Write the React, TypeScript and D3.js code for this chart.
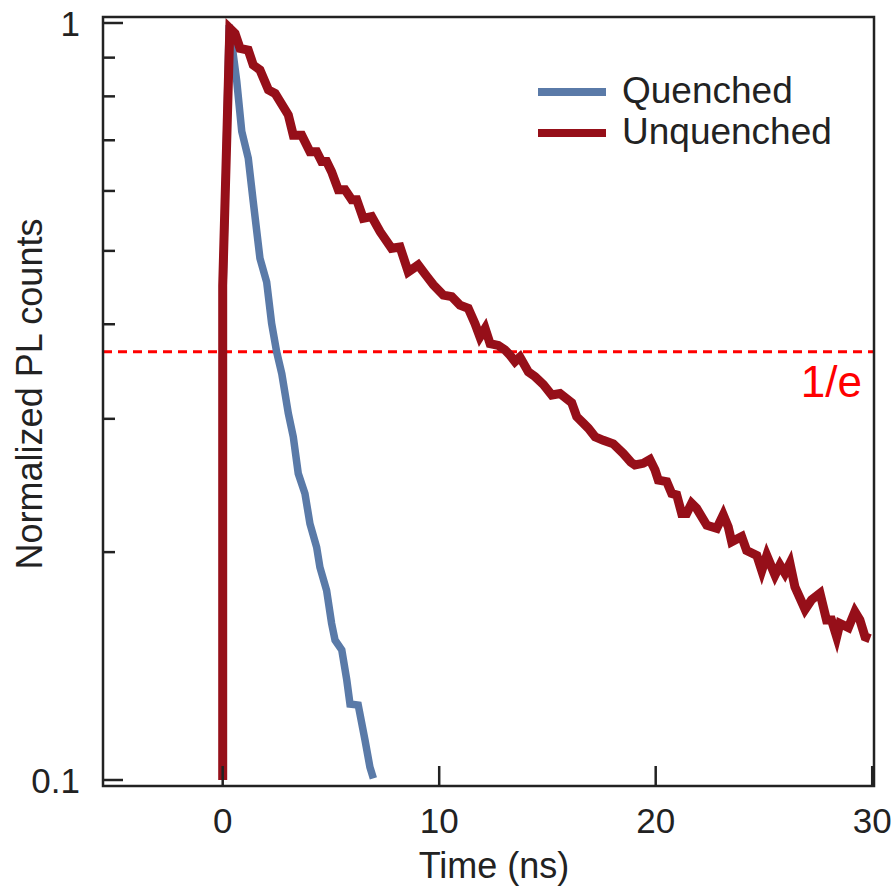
import React from "react";
import * as d3 from "d3";

const quenchedT = [0.0, 0.02, 0.3, 0.41, 0.65, 0.88, 1.18, 1.41, 1.72, 2.03, 2.26, 2.49, 2.73, 3.03, 3.26, 3.49, 3.8, 4.03, 4.34, 4.49, 4.8, 5.03, 5.19, 5.5, 5.73, 5.88, 6.26, 6.57, 6.8, 6.96];
const quenchedV = [0.1, 0.45, 0.994, 0.945, 0.837, 0.719, 0.663, 0.581, 0.489, 0.455, 0.401, 0.368, 0.344, 0.305, 0.284, 0.254, 0.239, 0.218, 0.203, 0.191, 0.178, 0.161, 0.153, 0.1485, 0.1356, 0.126, 0.1256, 0.113, 0.104, 0.1005];

const unquenchedT = [0.0, 0.0, 0.33, 0.57, 0.8, 1.18, 1.41, 1.72, 2.11, 2.42, 3.03, 3.26, 3.65, 4.03, 4.34, 4.57, 4.8, 5.03, 5.34, 5.65, 5.96, 6.19, 6.49, 6.88, 7.27, 7.8, 8.19, 8.57, 9.03, 9.42, 9.73, 10.19, 10.58, 10.96, 11.34, 11.65, 11.88, 12.12, 12.35, 12.73, 13.04, 13.27, 13.5, 13.73, 14.12, 14.43, 14.81, 15.2, 15.58, 16.12, 16.35, 16.66, 16.89, 17.2, 17.58, 18.04, 18.5, 18.85, 19.04, 19.42, 19.73, 19.97, 20.12, 20.51, 20.74, 20.97, 21.2, 21.43, 21.66, 21.89, 22.36, 22.82, 23.12, 23.35, 23.51, 23.97, 24.2, 24.67, 24.9, 25.13, 25.51, 25.74, 25.97, 26.2, 26.43, 26.9, 27.2, 27.59, 27.89, 28.12, 28.36, 28.51, 28.9, 29.2, 29.43, 29.67, 29.9];
const unquenchedV = [0.1, 0.45, 0.984, 0.969, 0.926, 0.921, 0.88, 0.867, 0.816, 0.807, 0.756, 0.711, 0.711, 0.676, 0.676, 0.656, 0.656, 0.636, 0.602, 0.602, 0.584, 0.584, 0.552, 0.555, 0.53, 0.504, 0.506, 0.469, 0.479, 0.463, 0.451, 0.437, 0.435, 0.424, 0.42, 0.401, 0.385, 0.395, 0.377, 0.375, 0.37, 0.364, 0.357, 0.362, 0.346, 0.341, 0.333, 0.3225, 0.324, 0.315, 0.302, 0.296, 0.2915, 0.284, 0.281, 0.278, 0.27, 0.263, 0.2607, 0.262, 0.265, 0.2567, 0.249, 0.2478, 0.239, 0.238, 0.225, 0.225, 0.232, 0.2285, 0.217, 0.215, 0.224, 0.216, 0.2064, 0.2097, 0.201, 0.198, 0.189, 0.198, 0.1865, 0.1923, 0.1875, 0.1933, 0.18, 0.168, 0.173, 0.1765, 0.1627, 0.1627, 0.1546, 0.161, 0.159, 0.1668, 0.1627, 0.1546, 0.1537];

const xTicks = [0, 10, 20, 30];
const yMajorTicks = [0.1, 1];
const yMinorTicks = [0.2, 0.3, 0.4, 0.5, 0.6, 0.7, 0.8, 0.9];
const seriesNames = ["Quenched", "Unquenched"];
const seriesColors = ["#5a7aa8", "#960f19"];
const invE = 1 / Math.E;

const W = 893;
const H = 894;
const left = 103, right = 874, top = 17, bottom = 786;
const FONT = "'Liberation Sans', Arial, Helvetica, sans-serif";

export default function App() {
  const x = d3.scaleLinear().domain([(left - 222.7) / 21.65, (right - 222.7) / 21.65]).range([left, right]);
  const y = d3.scaleLog().domain([Math.pow(10, -1 - 6 / 757), Math.pow(10, 6 / 757)]).range([bottom, top]);

  const line = d3.line<[number, number]>().x((d) => x(d[0])).y((d) => y(d[1]));
  const qData: [number, number][] = quenchedT.map((t, i) => [t, quenchedV[i]]);
  const uData: [number, number][] = unquenchedT.map((t, i) => [t, unquenchedV[i]]);

  return (
    <svg width={W} height={H} style={{ position: "absolute", left: 0, top: 0, background: "#fff" }} fontFamily={FONT}>
      <rect x={0} y={0} width={W} height={H} fill="#fff" />
      <defs>
        <clipPath id="plot">
          <rect x={left} y={top} width={right - left} height={bottom - top} />
        </clipPath>
      </defs>
      {/* 1/e line */}
      <line x1={left} x2={right} y1={y(invE)} y2={y(invE)} stroke="#ff0000" strokeWidth={3} strokeDasharray="9 6" />
      <text x={862} y={397} fontSize={44} fill="#ff0000" textAnchor="end">1/e</text>
      {/* curves */}
      <g clipPath="url(#plot)">
        <path d={line(qData) || ""} fill="none" stroke={seriesColors[0]} strokeWidth={7.5} strokeLinejoin="miter" />
        <path d={line(uData) || ""} fill="none" stroke={seriesColors[1]} strokeWidth={9} strokeLinejoin="miter" />
      </g>
      {/* frame */}
      <rect x={left} y={top} width={right - left} height={bottom - top} fill="none" stroke="#222" strokeWidth={2.5} />
      {/* x ticks */}
      {xTicks.map((t) => (
        <g key={"x" + t}>
          <line x1={x(t)} x2={x(t)} y1={bottom} y2={bottom - 20} stroke="#222" strokeWidth={2.5} />
          <text x={x(t)} y={833} fontSize={35} textAnchor="middle" fill="#222">{t}</text>
        </g>
      ))}
      {/* y ticks */}
      {yMajorTicks.map((v) => (
        <g key={"y" + v}>
          <line x1={left} x2={left + 20} y1={y(v)} y2={y(v)} stroke="#222" strokeWidth={2.5} />
          <text x={80} y={y(v) + 13} fontSize={35} textAnchor="end" fill="#222">{v === 1 ? "1" : "0.1"}</text>
        </g>
      ))}
      {yMinorTicks.map((v) => (
        <line key={"m" + v} x1={left} x2={left + 12} y1={y(v)} y2={y(v)} stroke="#222" strokeWidth={2.5} />
      ))}
      {/* axis labels */}
      <text x={494} y={878} fontSize={36} textAnchor="middle" fill="#222">Time (ns)</text>
      <text transform={`translate(42, 394) rotate(-90)`} fontSize={36} textAnchor="middle" fill="#222">Normalized PL counts</text>
      {/* legend */}
      {seriesNames.map((n, i) => (
        <g key={n}>
          <line x1={538} x2={606} y1={92 + i * 41} y2={92 + i * 41} stroke={seriesColors[i]} strokeWidth={8} />
          <text x={622} y={103 + i * 41} fontSize={37} fill="#222">{n}</text>
        </g>
      ))}
    </svg>
  );
}
